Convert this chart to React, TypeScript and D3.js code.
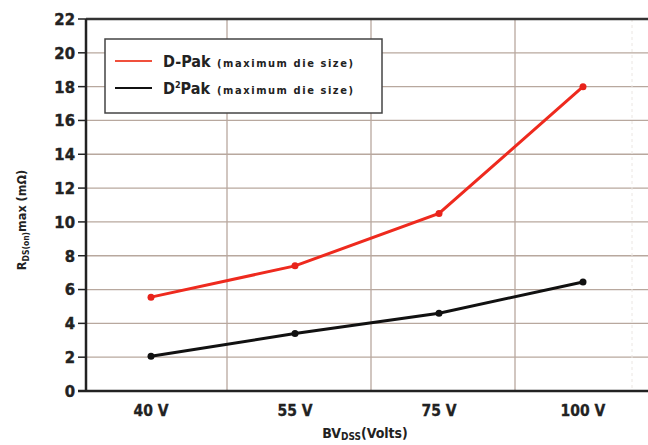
import React from "react";
import * as d3 from "d3";

const categories = ["40 V", "55 V", "75 V", "100 V"];
const dpak = [5.55, 7.4, 10.5, 18.0];
const d2pak = [2.05, 3.4, 4.6, 6.45];
const yTicks = [0, 2, 4, 6, 8, 10, 12, 14, 16, 18, 20, 22];

const W = 648, H = 445;
const axisX = 86, top = 19, bottom = 391;
const FONT = "'DejaVu Sans Condensed', 'Liberation Sans Narrow', 'Liberation Sans', sans-serif";

export default function App() {
  const x = d3.scaleBand<string>().domain(categories).range([79, 655]).padding(0);
  const y = d3.scaleLinear().domain([0, 22]).range([bottom, top]);
  const cx = (c: string) => (x(c) ?? 0) + x.bandwidth() / 2;
  const line = d3.line<number>().x((_, i) => cx(categories[i])).y((d) => y(d));
  const grid = "#b8a89e";
  return (
    <svg width={W} height={H} style={{ position: "absolute", left: 0, top: 0, background: "#fff" }}>
      <rect width={W} height={H} fill="#fff" />
      {yTicks.slice(1, -1).map((t) => (
        <line key={t} x1={axisX} x2={W} y1={y(t)} y2={y(t)} stroke={grid} strokeWidth={1.3} />
      ))}
      {categories.slice(1).map((c) => (
        <line key={c} x1={(x(c) ?? 0) + 4} x2={(x(c) ?? 0) + 4} y1={top} y2={bottom} stroke={grid} strokeWidth={1.3} />
      ))}
      <line x1={632} x2={632} y1={top} y2={bottom} stroke="#ebe6e2" strokeWidth={1} strokeDasharray="3,3" />
      <line x1={axisX} x2={W} y1={top} y2={top} stroke="#333" strokeWidth={2.5} />
      <line x1={78} x2={W} y1={bottom} y2={bottom} stroke="#222" strokeWidth={2.5} />
      <line x1={axisX} x2={axisX} y1={top} y2={bottom} stroke="#222" strokeWidth={2.5} />
      {yTicks.map((t) => (
        <g key={t}>
          <line x1={78} x2={axisX} y1={y(t)} y2={y(t)} stroke="#222" strokeWidth={1.5} />
          <text x={75} y={y(t)} dy="0.36em" textAnchor="end" fontFamily={FONT} fontWeight="bold" fontSize={16.5} fill="#222" stroke="#222" strokeWidth={0.4}>
            {t}
          </text>
        </g>
      ))}
      {categories.map((c) => (
        <text key={c} x={cx(c)} y={416} textAnchor="middle" fontFamily={FONT} fontWeight="bold" fontSize={15.5} fill="#222" stroke="#222" strokeWidth={0.3}>
          {c}
        </text>
      ))}
      <text x={365} y={438} textAnchor="middle" fontFamily={FONT} fontWeight="bold" fontSize={14} fill="#222">
        BV<tspan fontSize={10} dy={2}>DSS</tspan><tspan dy={-2}>(Volts)</tspan>
      </text>
      <text transform="translate(26,220) rotate(-90)" textAnchor="middle" fontFamily={FONT} fontWeight="bold" fontSize={12.5} fill="#222">
        R<tspan fontSize={8.5} dy={3}>DS(on)</tspan><tspan dy={-3}>max (mΩ)</tspan>
      </text>
      <path d={line(dpak) ?? ""} fill="none" stroke="#ee2a1e" strokeWidth={3} />
      <path d={line(d2pak) ?? ""} fill="none" stroke="#111" strokeWidth={3} />
      {dpak.map((v, i) => (
        <circle key={"r" + i} cx={cx(categories[i])} cy={y(v)} r={3.5} fill="#e8231b" />
      ))}
      {d2pak.map((v, i) => (
        <circle key={"k" + i} cx={cx(categories[i])} cy={y(v)} r={3.5} fill="#111" />
      ))}
      <rect x={105} y={39} width={277} height={74} fill="#fff" stroke="#444" strokeWidth={1.5} />
      <line x1={115} x2={152} y1={61} y2={61} stroke="#f0503c" strokeWidth={2} />
      <line x1={115} x2={152} y1={88} y2={88} stroke="#111" strokeWidth={2} />
      <text x={163} y={67} fontFamily={FONT} fontWeight="bold" fontSize={16} fill="#222">
        D-Pak
      </text>
      <text x={217} y={67} fontFamily={FONT} fontWeight="bold" fontSize={11} fill="#222" textLength={136} lengthAdjust="spacing">
        (maximum die size)
      </text>
      <text x={163} y={94} fontFamily={FONT} fontWeight="bold" fontSize={16} fill="#222">
        D<tspan fontSize={9} dy={-6}>2</tspan><tspan dy={6}>Pak</tspan>
      </text>
      <text x={217} y={94} fontFamily={FONT} fontWeight="bold" fontSize={11} fill="#222" textLength={136} lengthAdjust="spacing">
        (maximum die size)
      </text>
    </svg>
  );
}
